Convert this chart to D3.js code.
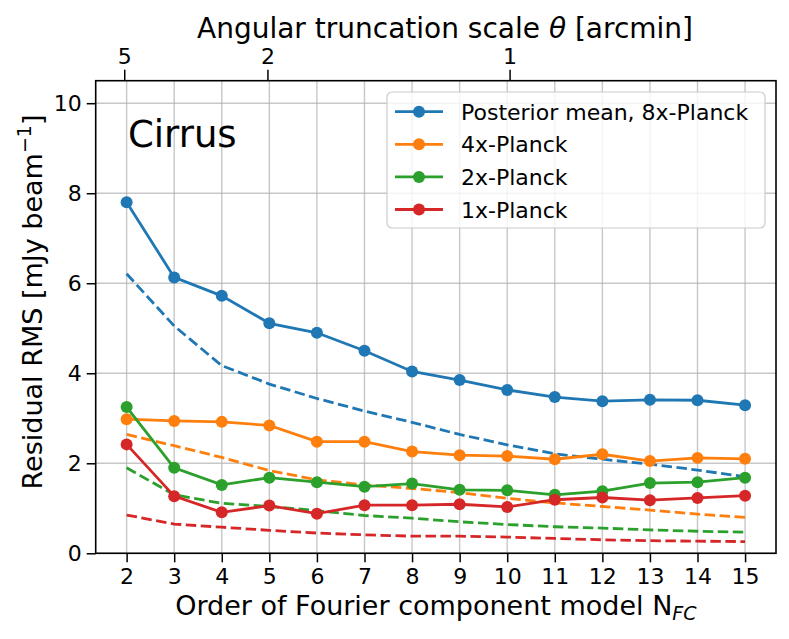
<!DOCTYPE html>
<html>
<head>
<meta charset="utf-8">
<script src="https://cdn.jsdelivr.net/npm/d3@7"></script>
<style>
  html, body { margin: 0; padding: 0; background: #fff; }
  svg { display: block; font-family: "DejaVu Sans", sans-serif; }
</style>
</head>
<body>
<svg id="chart" width="789" height="639"></svg>
<script>
// ---- data ----
const orders = [2, 3, 4, 5, 6, 7, 8, 9, 10, 11, 12, 13, 14, 15];
const seriesNames = ["Posterior mean, 8x-Planck", "4x-Planck", "2x-Planck", "1x-Planck"];
const solid8x = [7.80, 6.13, 5.72, 5.11, 4.90, 4.50, 4.04, 3.85, 3.63, 3.47, 3.38, 3.41, 3.40, 3.29];
const solid4x = [2.98, 2.94, 2.92, 2.84, 2.48, 2.48, 2.26, 2.18, 2.16, 2.09, 2.20, 2.05, 2.12, 2.10];
const solid2x = [3.25, 1.90, 1.52, 1.68, 1.58, 1.48, 1.55, 1.41, 1.40, 1.30, 1.38, 1.56, 1.58, 1.68];
const solid1x = [2.42, 1.27, 0.91, 1.06, 0.88, 1.07, 1.07, 1.09, 1.03, 1.19, 1.24, 1.18, 1.23, 1.28];
const dashed8x = [6.21, 5.05, 4.17, 3.76, 3.44, 3.16, 2.91, 2.64, 2.41, 2.21, 2.09, 1.98, 1.85, 1.70];
const dashed4x = [2.64, 2.39, 2.13, 1.84, 1.63, 1.52, 1.44, 1.35, 1.22, 1.12, 1.04, 0.96, 0.87, 0.80];
const dashed2x = [1.90, 1.30, 1.11, 1.04, 0.95, 0.84, 0.78, 0.70, 0.64, 0.59, 0.56, 0.52, 0.49, 0.47];
const dashed1x = [0.85, 0.65, 0.58, 0.51, 0.45, 0.41, 0.38, 0.38, 0.36, 0.33, 0.30, 0.28, 0.27, 0.26];
const colors = ["#1f77b4", "#ff7f0e", "#2ca02c", "#d62728"];
const yTicks = [0, 2, 4, 6, 8, 10];
const topTickPos = [1.95, 4.96, 10.05];   // position on N axis
const topTickLabels = ["5", "2", "1"];

const solids = [solid8x, solid4x, solid2x, solid1x];
const dashes = [dashed8x, dashed4x, dashed2x, dashed1x];

// ---- layout ----
const L = 95.7, R = 776, T = 80.7, B = 553.3;
const svg = d3.select("#chart");
const x = d3.scaleLinear().domain([1.35, 15.65]).range([L, R]);
const y = d3.scaleLinear().domain([0, 10.5]).range([B, T]);

svg.append("defs").append("clipPath").attr("id", "clip")
  .append("rect").attr("x", L).attr("y", T).attr("width", R - L).attr("height", B - T);

// grid
const grid = svg.append("g").attr("stroke", "#b0b0b0").attr("stroke-opacity", 0.7).attr("stroke-width", 1.4);
orders.forEach(o => grid.append("line").attr("x1", x(o)).attr("x2", x(o)).attr("y1", T).attr("y2", B));
yTicks.forEach(v => grid.append("line").attr("x1", L).attr("x2", R).attr("y1", y(v)).attr("y2", y(v)));

// lines
const plot = svg.append("g").attr("clip-path", "url(#clip)");
const line = d3.line().x((d, i) => x(orders[i])).y(d => y(d));
dashes.forEach((s, k) => {
  plot.append("path").datum(s).attr("d", line).attr("fill", "none")
    .attr("stroke", colors[k]).attr("stroke-width", 2.8).attr("stroke-dasharray", "10.5,4.5");
});
solids.forEach((s, k) => {
  plot.append("path").datum(s).attr("d", line).attr("fill", "none")
    .attr("stroke", colors[k]).attr("stroke-width", 2.8);
  plot.selectAll(null).data(s).enter().append("circle")
    .attr("cx", (d, i) => x(orders[i])).attr("cy", d => y(d)).attr("r", 6).attr("fill", colors[k]);
});

// axes
const tickFont = 22;
const xAxis = svg.append("g").attr("transform", `translate(0,${B})`)
  .call(d3.axisBottom(x).tickValues(orders).tickFormat(d3.format("d")).tickSize(9).tickPadding(6).tickSizeOuter(0));
const yAxis = svg.append("g").attr("transform", `translate(${L},0)`)
  .call(d3.axisLeft(y).tickValues(yTicks).tickFormat(d3.format("d")).tickSize(9).tickPadding(5).tickSizeOuter(0));
const topAxis = svg.append("g").attr("transform", `translate(0,${T})`)
  .call(d3.axisTop(x).tickValues(topTickPos).tickFormat((d, i) => topTickLabels[i]).tickSize(11).tickPadding(6).tickSizeOuter(0));
[xAxis, yAxis, topAxis].forEach(g => {
  g.select(".domain").remove();
  g.selectAll(".tick line").attr("stroke", "#000").attr("stroke-width", 1.5);
  g.selectAll(".tick text").attr("font-size", tickFont).attr("fill", "#000").attr("font-family", "DejaVu Sans");
});

// spines
svg.append("rect").attr("x", L).attr("y", T).attr("width", R - L).attr("height", B - T)
  .attr("fill", "none").attr("stroke", "#000").attr("stroke-width", 1.6);

// labels
const xl = svg.append("text").attr("x", (L + R) / 2).attr("y", 615).attr("text-anchor", "middle")
  .attr("font-size", 27).attr("fill", "#000");
xl.append("tspan").text("Order of Fourier component model N");
xl.append("tspan").attr("font-size", 19).attr("font-style", "italic").attr("dy", 5).text("FC");

const tl = svg.append("text").attr("x", 445).attr("y", 37.5).attr("text-anchor", "middle")
  .attr("font-size", 28).attr("fill", "#000");
tl.append("tspan").text("Angular truncation scale ");
tl.append("tspan").attr("font-style", "italic").text("θ");
tl.append("tspan").text(" [arcmin]");

const yl = svg.append("text").attr("transform", `translate(42,302) rotate(-90)`).attr("text-anchor", "middle")
  .attr("font-size", 27).attr("fill", "#000");
yl.append("tspan").text("Residual RMS [mJy beam");
yl.append("tspan").attr("font-size", 19).attr("dy", -11).text("−1");
yl.append("tspan").attr("dy", 11).text("]");

svg.append("text").attr("x", 128).attr("y", 147).attr("font-size", 37).attr("fill", "#000").text("Cirrus");

// legend
const lg = svg.append("g");
lg.append("rect").attr("x", 387).attr("y", 92).attr("width", 378).attr("height", 136).attr("rx", 5)
  .attr("fill", "#fff").attr("fill-opacity", 0.8).attr("stroke", "#cccccc").attr("stroke-width", 1.2);
seriesNames.forEach((n, k) => {
  const yy = 111.7 + k * 32.6;
  lg.append("line").attr("x1", 395).attr("x2", 443).attr("y1", yy).attr("y2", yy)
    .attr("stroke", colors[k]).attr("stroke-width", 2.8);
  lg.append("circle").attr("cx", 419).attr("cy", yy).attr("r", 6).attr("fill", colors[k]);
  lg.append("text").attr("x", 461).attr("y", yy + 8).attr("font-size", 22).attr("fill", "#000").text(n);
});
</script>
</body>
</html>
